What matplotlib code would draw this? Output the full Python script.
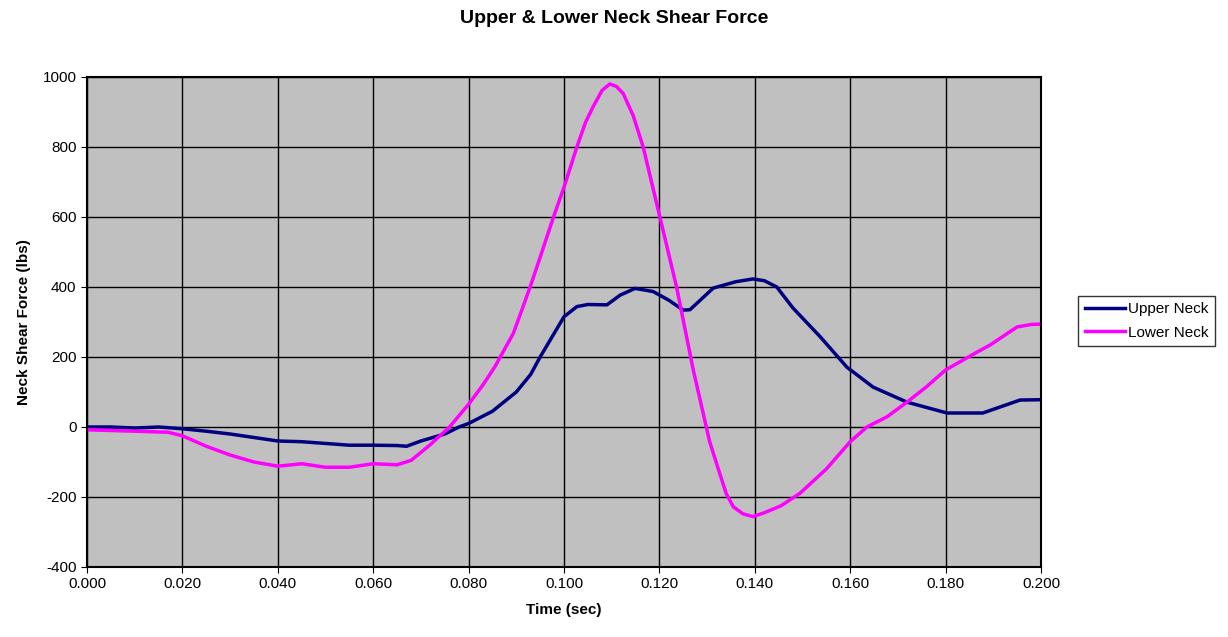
import numpy as np
import matplotlib.pyplot as plt

plt.rcParams['font.family'] = ['Liberation Sans', 'DejaVu Sans']
plt.rcParams['axes.unicode_minus'] = False

# Upper neck shear (lbs) vs time (sec)
t_upper = [0.000, 0.005, 0.010, 0.015, 0.020, 0.025, 0.030, 0.035, 0.040, 0.045,
           0.050, 0.055, 0.060, 0.065, 0.067, 0.070, 0.075, 0.078, 0.080, 0.085,
           0.090, 0.093, 0.095, 0.100, 0.1027, 0.105, 0.109, 0.1118, 0.1149, 0.1187,
           0.122, 0.125, 0.1264, 0.1313, 0.136, 0.1396, 0.142, 0.1446,
           0.148, 0.1537, 0.1593, 0.1648, 0.1719, 0.1803, 0.1878, 0.1956, 0.200]
upper = [0, 0, -3, 0, -5, -12, -20, -30, -40, -42,
         -47, -52, -52, -53, -55, -40, -20, 0, 10, 45,
         100, 150, 200, 315, 344, 350, 349, 377, 396, 387,
         362, 334, 335, 397, 415, 423, 418, 400,
         340, 258, 171, 114, 71, 40, 40, 77, 78]

# Lower neck shear (lbs) vs time (sec)
t_lower = [0.000, 0.010, 0.017, 0.020, 0.025, 0.030, 0.035, 0.040, 0.045, 0.050,
           0.055, 0.060, 0.065, 0.068, 0.072, 0.076, 0.080, 0.083, 0.0855, 0.0894,
           0.0929, 0.095, 0.0978, 0.100, 0.1027, 0.1045, 0.1061, 0.108, 0.1096, 0.111,
           0.1124, 0.1145, 0.1166, 0.1201, 0.1236, 0.1271, 0.129, 0.1305, 0.132, 0.134,
           0.1355, 0.1375, 0.1396, 0.142, 0.1455, 0.1495, 0.155, 0.160, 0.1635, 0.1677,
           0.1719, 0.176, 0.180, 0.1866, 0.1893, 0.195, 0.198, 0.200]
lower = [-8, -12, -15, -25, -55, -80, -100, -112, -105, -115,
         -115, -105, -108, -95, -50, 0, 65, 120, 172, 268,
         400, 485, 600, 685, 800, 870, 915, 962, 980, 973,
         953, 890, 800, 600, 400, 163, 50, -40, -105, -190,
         -228, -248, -256, -245, -225, -189, -120, -42, 0, 29,
         71, 115, 163, 214, 234, 286, 293, 294]

x_ticks = np.arange(0, 0.2001, 0.02)
y_ticks = np.arange(-400, 1001, 200)

fig = plt.figure(figsize=(12.28, 6.37), dpi=100)
ax = fig.add_axes([87/1228, 1 - 567/637, (1041-87)/1228, (567-77)/637])
ax.set_facecolor('#c0c0c0')

ax.plot(t_upper, upper, color='#000080', lw=2.5, label='Upper Neck')
ax.plot(t_lower, lower, color='#ff00ff', lw=2.5, label='Lower Neck')

ax.set_xlim(0, 0.2)
ax.set_ylim(-400, 1000)
ax.set_xticks(x_ticks)
ax.set_xticklabels(['%.3f' % v for v in x_ticks])
ax.set_yticks(y_ticks)
ax.grid(True, color='black', lw=1)
ax.set_axisbelow(True)
ax.tick_params(labelsize=11, direction='out', length=4)
for s in ax.spines.values():
    s.set_color('black')
    s.set_linewidth(1.5)

ax.set_xlabel('Time (sec)', fontsize=11, fontweight='bold', labelpad=8)
ax.set_ylabel('Neck Shear Force (lbs)', fontsize=11, fontweight='bold', labelpad=8)
fig.suptitle('Upper & Lower Neck Shear Force', fontsize=14, fontweight='bold', y=0.985)

leg = ax.legend(loc='center left', bbox_to_anchor=(1.039, 0.502), fontsize=11,
                frameon=True, fancybox=False, edgecolor='black', borderpad=0.45,
                handlelength=2.6, handletextpad=0.2, labelspacing=0.6,
                borderaxespad=0)
leg.get_frame().set_linewidth(1)

fig.savefig('out.png', dpi=100)
